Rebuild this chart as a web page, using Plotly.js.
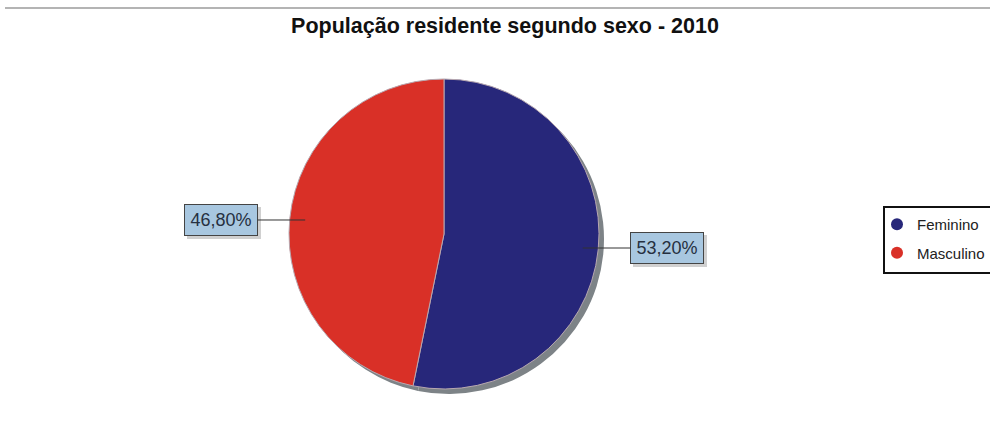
<!DOCTYPE html>
<html><head><meta charset="utf-8">
<script src="https://cdn.plot.ly/plotly-3.0.1.min.js"></script>
<style>html,body{margin:0;padding:0;background:#fff}#chart{width:990px;height:424px}</style>
</head><body><div id="chart"></div>
<script>
const categories = ["Feminino", "Masculino"];
const values = [53.20, 46.80];
const colors = ["#27277a", "#d93027"];
const labelTexts = ["53,20%", "46,80%"];
const titleText = "População residente segundo sexo - 2010";

const W = 990, H = 424;
const cx = 444, cy = 234, R = 155;
const FONT = 'Liberation Sans, Arial, sans-serif';
const dom = {x: [(cx - R) / W, (cx + R) / W], y: [(H - cy - R) / H, (H - cy + R) / H]};
const sh = 5;
const domShadow = {x: [dom.x[0] + sh / W, dom.x[1] + sh / W], y: [dom.y[0] - sh / H, dom.y[1] - sh / H]};

const traces = [
  {type: 'pie', values: values, labels: categories, domain: domShadow, sort: false, direction: 'clockwise',
   marker: {colors: ['#7d8387', '#7d8387'], line: {width: 0}}, textinfo: 'none', hoverinfo: 'skip', showlegend: false},
  {type: 'pie', values: values, labels: categories, domain: dom, sort: false, direction: 'clockwise',
   marker: {colors: colors, line: {color: '#b8a8b0', width: 1}}, textinfo: 'none', showlegend: false}
];
// legend entries with circular symbols
categories.forEach((c, i) => traces.push({type: 'scatter', mode: 'markers', x: [null], y: [null], name: c,
  legendgroup: 'g' + i, marker: {color: colors[i], size: 15, symbol: 'circle'}, showlegend: true}));

// label annotations computed from data
const total = values.reduce((a, b) => a + b, 0);
let cum = 0;
const shadows = [], labels = [];
values.forEach((v, i) => {
  const mid = (cum + v / 2) / total * 2 * Math.PI; cum += v;
  const dx = Math.sin(mid), dy = -Math.cos(mid);
  const px = cx + dx * R * 0.9, py = cy + dy * R * 0.9;
  const base = {x: px / W, y: (H - py) / H, xref: 'paper', yref: 'paper',
    showarrow: true, arrowhead: 0, arrowwidth: 1, ax: (dx > 0 ? 1 : -1) * 84, ay: 0,
    width: 62, height: 20, borderwidth: 1, borderpad: 5};
  shadows.push(Object.assign({}, base, {text: '&nbsp;', xshift: 3, yshift: -3, arrowcolor: 'rgba(0,0,0,0)',
    bgcolor: '#d0d0d0', bordercolor: '#d0d0d0', font: {family: FONT, size: 18, color: 'rgba(0,0,0,0)'}}));
  labels.push(Object.assign({}, base, {text: labelTexts[i], arrowcolor: '#333', bgcolor: '#a8c7e0', bordercolor: '#444',
    font: {family: FONT, size: 18, color: '#263040'}}));
});

const layout = {
  width: W, height: H, margin: {l: 0, r: 0, t: 0, b: 0, autoexpand: false},
  paper_bgcolor: '#fff', plot_bgcolor: '#fff',
  title: {text: '<b>' + titleText + '</b>', x: 505 / W, xanchor: 'center', y: (H - 25) / H, yanchor: 'middle',
    font: {family: FONT, size: 21.5, color: '#111'}},
  xaxis: {visible: false}, yaxis: {visible: false},
  legend: {x: 877 / W, xanchor: 'left', y: (H - 208) / H, yanchor: 'top', bgcolor: 'rgba(0,0,0,0)', borderwidth: 0,
    font: {family: FONT, size: 15, color: '#222'}, itemsizing: 'constant', tracegroupgap: 6},
  shapes: [
    {type: 'line', xref: 'paper', yref: 'paper', x0: 5 / W, x1: 1, y0: (H - 8) / H, y1: (H - 8) / H,
     line: {color: '#b4b4b4', width: 2}},
    {type: 'rect', xref: 'paper', yref: 'paper', x0: 884 / W, x1: 1000 / W, y0: (H - 273) / H, y1: (H - 207) / H,
     line: {color: '#111', width: 2}, fillcolor: '#fff', layer: 'below'}
  ],
  annotations: shadows.concat(labels)
};
Plotly.newPlot('chart', traces, layout, {displayModeBar: false});
</script></body></html>
